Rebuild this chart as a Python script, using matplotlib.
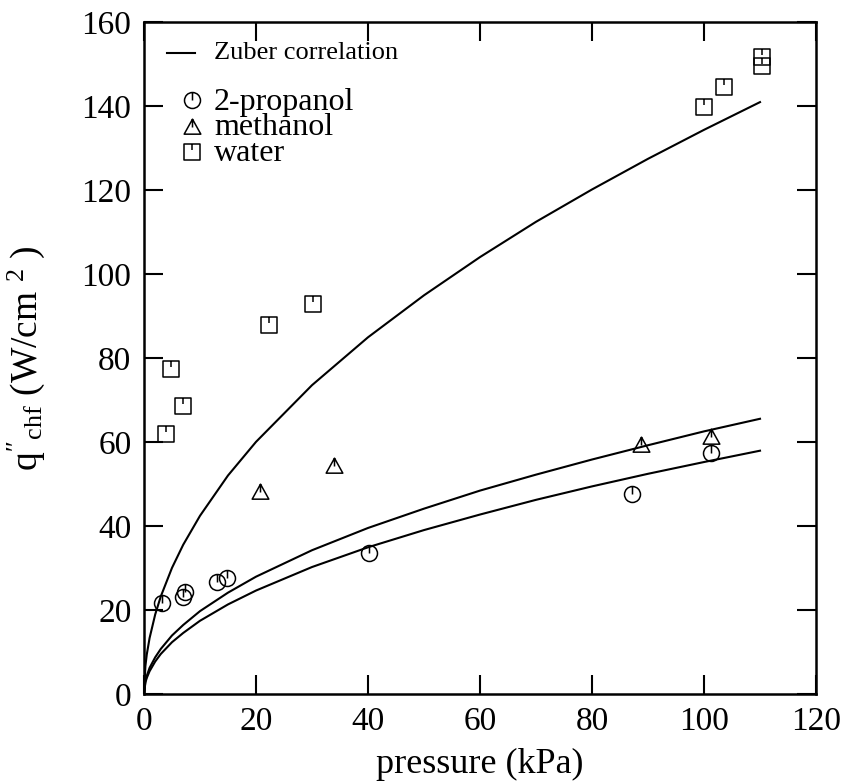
import matplotlib
matplotlib.use("Agg")
import matplotlib.pyplot as plt
from matplotlib.path import Path

plt.rcParams['font.family'] = ['Liberation Serif', 'DejaVu Serif']
plt.rcParams['mathtext.fontset'] = 'custom'
plt.rcParams['mathtext.rm'] = 'Liberation Serif'
plt.rcParams['mathtext.it'] = 'Liberation Serif:italic'

# ---- data ----
propanol_p = [3.2, 6.9, 7.3, 13.0, 14.8, 40.2, 87.2, 101.3]
propanol_q = [21.8, 23.2, 24.4, 26.8, 27.8, 33.6, 47.8, 57.5]
methanol_p = [20.7, 34.0, 88.7, 101.3]
methanol_q = [48.2, 54.4, 59.4, 61.2]
water_p = [3.9, 4.9, 7.0, 22.4, 30.2, 100.0, 103.6, 110.4, 110.4]
water_q = [61.9, 77.4, 68.7, 87.9, 92.9, 139.9, 144.7, 151.7, 149.7]

zuber_p = [0, 0.25, 0.5, 1, 2, 3, 5, 7, 10, 15, 20, 30, 40, 50, 60, 70, 80, 90, 100, 110]
zuber_water = [0, 6.7, 9.5, 13.4, 19.0, 23.3, 30.1, 35.6, 42.5, 52.1, 60.1, 73.6, 85.0,
               95.0, 104.1, 112.5, 120.2, 127.5, 134.4, 141.0]
zuber_methanol = [0, 3.1, 4.4, 6.3, 8.8, 10.8, 14.0, 16.5, 19.8, 24.2, 28.0, 34.3, 39.6,
                  44.2, 48.5, 52.3, 55.9, 59.3, 62.6, 65.6]
zuber_propanol = [0, 2.8, 3.9, 5.5, 7.8, 9.6, 12.4, 14.6, 17.5, 21.4, 24.7, 30.3, 35.0,
                  39.1, 42.8, 46.3, 49.5, 52.5, 55.3, 58.0]

xticks = [0, 20, 40, 60, 80, 100, 120]
yticks = [0, 20, 40, 60, 80, 100, 120, 140, 160]
legend_labels = ['2-propanol', 'methanol', 'water']

# ---- markers: open symbol with a short vertical stroke from top to centre ----
tick = Path([[0, 0], [0, 1]], [Path.MOVETO, Path.LINETO])
circ_m = Path.make_compound_path(Path.unit_circle(), tick)
sq_m = Path.make_compound_path(
    Path([[-1, -1], [1, -1], [1, 1], [-1, 1], [-1, -1]],
         [Path.MOVETO, Path.LINETO, Path.LINETO, Path.LINETO, Path.CLOSEPOLY]),
    Path([[0, 0.3], [0, 1]], [Path.MOVETO, Path.LINETO]))
tri_m = Path.make_compound_path(
    Path([[-1, -0.8], [1, -0.8], [0, 1], [-1, -0.8]],
         [Path.MOVETO, Path.LINETO, Path.LINETO, Path.CLOSEPOLY]),
    Path([[0, 0.0], [0, 1]], [Path.MOVETO, Path.LINETO]))

fig = plt.figure(figsize=(8.45, 7.83), dpi=100)
ax = fig.add_axes([0.1704, 0.1133, 0.7953, 0.8582])

lw = 1.5
for yv in (zuber_water, zuber_methanol, zuber_propanol):
    ax.plot(zuber_p, yv, color='black', lw=lw)

mk = dict(ls='none', mfc='none', mec='black', mew=1.1, color='black')
ax.plot(propanol_p, propanol_q, marker=circ_m, ms=11.5, **mk)
ax.plot(methanol_p, methanol_q, marker=tri_m, ms=12, **mk)
ax.plot(water_p, water_q, marker=sq_m, ms=11.8, **mk)

ax.set_xlim(0, 120)
ax.set_ylim(0, 160)
ax.set_xticks(xticks)
ax.set_yticks(yticks)
ax.tick_params(direction='in', length=13.5, width=1.5, top=True, right=True,
               labelsize=24, pad=9)
for s in ax.spines.values():
    s.set_linewidth(1.8)

ax.set_xlabel('pressure (kPa)', fontsize=26, labelpad=8)
ax.set_ylabel(r"$\mathrm{q}''_{\mathrm{chf}}$ (W/cm $^{2}$ )", fontsize=27)
ax.yaxis.set_label_coords(-0.145, 0.5)

# ---- legend (drawn manually, like the original) ----
T = ax.transAxes
ax.plot([0.034, 0.076], [0.954, 0.954], color='black', lw=lw, transform=T, clip_on=False)
ax.text(0.104, 0.954, 'Zuber correlation', fontsize=19, va='center', ha='left', transform=T)
for yy, m, ms in [(0.884, circ_m, 11.5), (0.844, tri_m, 12), (0.807, sq_m, 11.8)]:
    ax.plot([0.071], [yy], marker=m, ms=ms, transform=T, clip_on=False, **mk)
ax.text(0.104, 0.843, '\n'.join(legend_labels), fontsize=23, va='center', ha='left',
        linespacing=0.83, transform=T)

fig.savefig('out.png', dpi=100)
